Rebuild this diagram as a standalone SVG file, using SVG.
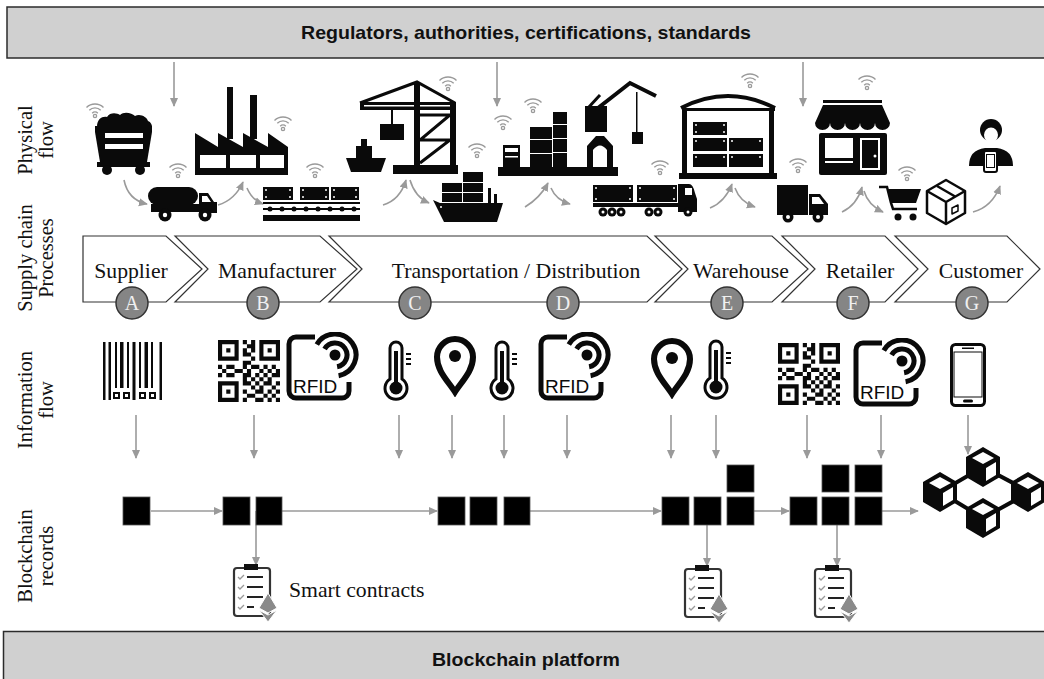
<svg xmlns="http://www.w3.org/2000/svg" xmlns:xlink="http://www.w3.org/1999/xlink" width="1044" height="679" viewBox="0 0 1044 679">
<defs>
<style>
  .band{fill:#d0d0d0;stroke:#2b2b2b;stroke-width:1.5}
  .band-t{font-family:"Liberation Sans",Arial,sans-serif;font-weight:bold;font-size:19px;fill:#111;text-anchor:middle}
  .row-t{font-family:"Liberation Serif","Times New Roman",serif;font-size:20.5px;fill:#111;text-anchor:middle}
  .proc{fill:#fff;stroke:#333;stroke-width:1.2}
  .proc-t{font-family:"Liberation Serif","Times New Roman",serif;font-size:21.7px;fill:#111;text-anchor:middle}
  .step{fill:#858585;stroke:#333;stroke-width:1.5}
  .step-t{font-family:"Liberation Serif","Times New Roman",serif;font-size:20px;fill:#f0f0f0;text-anchor:middle}
  .arw{fill:none;stroke:#9a9a9a;stroke-width:1.6;marker-end:url(#ah)}
  .ink{fill:#0a0a0a}
  .hole{fill:#fff}
  .blk{fill:#000;stroke:#555;stroke-width:0.8}
  .wifi{fill:none;stroke:#9a9a9a;stroke-width:1.4}
  .rfid-t{font-family:"Liberation Sans",Arial,sans-serif;font-size:19px;fill:#0a0a0a}
</style>
<marker id="ah" viewBox="0 0 10 10" refX="9" refY="5" markerWidth="9" markerHeight="9" markerUnits="userSpaceOnUse" orient="auto">
  <path d="M0 0.5L10 5L0 9.5Z" fill="#9a9a9a"/>
</marker>
<g id="wifi" class="wifi">
  <path d="M-2.8 3.2A4 4 0 0 1 2.8 3.2M-5.7 0.3A8 8 0 0 1 5.7 0.3M-8.5 -2.5A12 12 0 0 1 8.5 -2.5"/>
  <circle cx="0" cy="6" r="1.6"/>
</g>
<symbol id="qr" viewBox="0 0 15 15">
  <path fill="#0a0a0a" fill-rule="evenodd" d="M0 0h5v5h-5zM1 1v3h3v-3zM10 0h5v5h-5zM11 1v3h3v-3zM0 10h5v5h-5zM1 11v3h3v-3z"/>
  <path fill="#0a0a0a" d="M2 2h1v1h-1zM12 2h1v1h-1zM2 12h1v1h-1z
  M6 0h1v1h-1zM8 0h1v1h-1zM7 1h1v1h-1zM8 1h1v1h-1zM6 2h1v1h-1zM8 2h1v1h-1zM6 3h1v1h-1zM7 3h1v1h-1zM8 4h1v1h-1zM6 5h1v1h-1zM7 5h1v1h-1z
  M0 6h1v1h-1zM2 6h1v1h-1zM3 6h1v1h-1zM6 6h1v1h-1zM8 6h1v1h-1zM9 6h1v1h-1zM11 6h1v1h-1zM13 6h1v1h-1z
  M1 7h1v1h-1zM4 7h1v1h-1zM5 7h1v1h-1zM7 7h1v1h-1zM10 7h1v1h-1zM12 7h1v1h-1zM14 7h1v1h-1z
  M0 8h1v1h-1zM2 8h1v1h-1zM3 8h1v1h-1zM6 8h1v1h-1zM7 8h1v1h-1zM9 8h1v1h-1zM11 8h1v1h-1zM13 8h1v1h-1zM14 8h1v1h-1z
  M6 9h1v1h-1zM8 9h1v1h-1zM10 9h1v1h-1zM12 9h1v1h-1z
  M6 10h1v1h-1zM7 10h1v1h-1zM9 10h1v1h-1zM11 10h1v1h-1zM12 10h1v1h-1zM14 10h1v1h-1z
  M8 11h1v1h-1zM10 11h1v1h-1zM13 11h1v1h-1z
  M6 12h1v1h-1zM9 12h1v1h-1zM10 12h1v1h-1zM12 12h1v1h-1zM14 12h1v1h-1z
  M7 13h1v1h-1zM8 13h1v1h-1zM11 13h1v1h-1zM13 13h1v1h-1z
  M6 14h1v1h-1zM9 14h1v1h-1zM10 14h1v1h-1zM12 14h1v1h-1zM14 14h1v1h-1z"/>
</symbol>
<symbol id="thermo" viewBox="0 0 32 62">
  <path d="M8 40V9a6 6 0 0 1 12 0V40a11 11 0 1 1 -12 0z" fill="none" stroke="#0a0a0a" stroke-width="3"/>
  <rect x="12" y="12" width="4" height="32" fill="#0a0a0a"/>
  <circle cx="14" cy="49" r="6.5" fill="#0a0a0a"/>
  <path d="M24 15h5M24 20h5M24 25h5" stroke="#0a0a0a" stroke-width="2"/>
</symbol>
<symbol id="pin" viewBox="0 0 44 62">
  <path d="M22 57C15 46 4 36 4 22A18 18 0 0 1 40 22C40 36 29 46 22 57Z" fill="none" stroke="#0a0a0a" stroke-width="6"/>
  <circle cx="22" cy="21" r="6" fill="#0a0a0a"/>
</symbol>
<symbol id="rfid" viewBox="0 0 78 70">
  <path d="M30 5H11a7 7 0 0 0 -7 7V59a7 7 0 0 0 7 7H57a7 7 0 0 0 7 -7V50" fill="none" stroke="#0a0a0a" stroke-width="5"/>
  <circle cx="50" cy="23" r="5.5" fill="#0a0a0a"/>
  <path d="M39.6 17A12 12 0 1 1 52.1 34.8M31.8 12.5A21 21 0 1 1 53.6 43.7" fill="none" stroke="#0a0a0a" stroke-width="5"/>
</symbol>
<symbol id="clip" viewBox="0 0 46 58">
  <rect x="2" y="4" width="36" height="48" rx="3" fill="#fff" stroke="#333" stroke-width="2.2"/>
  <rect x="12" y="0" width="14" height="6" fill="#111"/>
  <path d="M6 13l2 2 4-4M6 23l2 2 4-4M6 33l2 2 4-4M6 43l2 2 4-4" stroke="#999" stroke-width="1.3" fill="none"/>
  <path d="M15 13H31M15 23H31M15 33H31M15 43H22" stroke="#222" stroke-width="2.2"/>
  <path d="M36 29L45 44L36 49L27 44Z" fill="#8a8a8a" stroke="#fff" stroke-width="1"/>
  <path d="M36 51L45 46L36 58L27 46Z" fill="#8a8a8a" stroke="#fff" stroke-width="1"/>
</symbol>
<g id="cube">
  <path d="M0 -20L17 -10V10L0 20L-17 10V-10Z" fill="#0a0a0a"/>
  <path d="M0 -15L11 -9L0 -3L-11 -9Z" fill="#fff"/>
  <path d="M3 1L13 -5V8L3 14Z" fill="#fff"/>
</g>
</defs>

<rect width="1044" height="679" fill="#fff"/>

<!-- top and bottom bands -->
<g id="regulators">
  <rect class="band" x="7" y="7" width="1045" height="51"/>
  <text class="band-t" x="526" y="39" textLength="450" lengthAdjust="spacingAndGlyphs">Regulators, authorities, certifications, standards</text>
</g>
<g id="platform">
  <rect class="band" x="3.5" y="631.5" width="1045" height="55"/>
  <text class="band-t" x="526" y="666" textLength="188" lengthAdjust="spacingAndGlyphs">Blockchain platform</text>
</g>

<!-- row captions -->
<g id="row-labels">
  <text class="row-t" transform="translate(32,140) rotate(-90)"><tspan x="0" y="0">Physical</tspan><tspan x="0" y="21">flow</tspan></text>
  <text class="row-t" transform="translate(32,258) rotate(-90)"><tspan x="0" y="0">Supply chain</tspan><tspan x="0" y="21">Processes</tspan></text>
  <text class="row-t" transform="translate(32,400) rotate(-90)"><tspan x="0" y="0">Information</tspan><tspan x="0" y="21">flow</tspan></text>
  <text class="row-t" transform="translate(32,556) rotate(-90)"><tspan x="0" y="0">Blockchain</tspan><tspan x="0" y="21">records</tspan></text>
</g>

<!-- connectors -->
<g id="connectors">
  <path class="arw" d="M174 62V106"/>
  <path class="arw" d="M497 62V106"/>
  <path class="arw" d="M803 62V106"/>
  <path class="arw" d="M124 180Q128 200 147 204"/>
  <path class="arw" d="M218 205Q235 200 243 182"/>
  <path class="arw" d="M247 188Q252 200 263 204"/>
  <path class="arw" d="M383 205Q400 200 406 180"/>
  <path class="arw" d="M410 180Q415 197 429 203"/>
  <path class="arw" d="M525 207Q540 198 548 183"/>
  <path class="arw" d="M551 188Q556 200 570 204"/>
  <path class="arw" d="M710 208Q725 202 732 184"/>
  <path class="arw" d="M735 188Q740 202 755 207"/>
  <path class="arw" d="M842 212Q857 205 862 187"/>
  <path class="arw" d="M864 191Q868 205 883 212"/>
  <path class="arw" d="M973 212Q992 207 1000 186"/>
  <path class="arw" d="M136 415V458"/>
  <path class="arw" d="M254 415V458"/>
  <path class="arw" d="M399 415V458"/>
  <path class="arw" d="M452 415V458"/>
  <path class="arw" d="M504 415V458"/>
  <path class="arw" d="M567 415V458"/>
  <path class="arw" d="M671 415V458"/>
  <path class="arw" d="M716 415V458"/>
  <path class="arw" d="M807 415V458"/>
  <path class="arw" d="M881 415V458"/>
  <path class="arw" d="M968 415V454"/>
  <path class="arw" d="M151 511H222"/>
  <path class="arw" d="M282 511H437"/>
  <path class="arw" d="M530 511H661"/>
  <path class="arw" d="M754 511H789"/>
  <path class="arw" d="M882 511H918"/>
  <path class="arw" d="M256 511V565"/>
  <path class="arw" d="M707 525V566"/>
  <path class="arw" d="M837 525V566"/>
</g>

<!-- process chevrons -->
<g id="proc-supplier">
  <polygon class="proc" points="83,236 166,236 202,269 166,302 83,302"/>
  <text class="proc-t" x="131" y="278">Supplier</text>
  <circle class="step" cx="132" cy="303" r="16"/><text class="step-t" x="132" y="310">A</text>
</g>
<g id="proc-manufacturer">
  <polygon class="proc" points="175,236 320,236 357,269 320,302 175,302 208,269"/>
  <text class="proc-t" x="277" y="278">Manufacturer</text>
  <circle class="step" cx="263" cy="303" r="16"/><text class="step-t" x="263" y="310">B</text>
</g>
<g id="proc-transport">
  <polygon class="proc" points="329,236 647,236 682,269 647,302 329,302 362,269"/>
  <text class="proc-t" x="516" y="278">Transportation / Distribution</text>
  <circle class="step" cx="415" cy="303" r="16"/><text class="step-t" x="415" y="310">C</text>
  <circle class="step" cx="563" cy="303" r="16"/><text class="step-t" x="563" y="310">D</text>
</g>
<g id="proc-warehouse">
  <polygon class="proc" points="655,236 772,236 808,269 772,302 655,302 688,269"/>
  <text class="proc-t" x="741" y="278">Warehouse</text>
  <circle class="step" cx="727" cy="303" r="16"/><text class="step-t" x="727" y="310">E</text>
</g>
<g id="proc-retailer">
  <polygon class="proc" points="782,236 885,236 918,269 885,302 782,302 815,269"/>
  <text class="proc-t" x="860" y="278">Retailer</text>
  <circle class="step" cx="853" cy="303" r="16"/><text class="step-t" x="853" y="310">F</text>
</g>
<g id="proc-customer">
  <polygon class="proc" points="895,236 1007,236 1040,269 1007,302 895,302 928,269"/>
  <text class="proc-t" x="981" y="278">Customer</text>
  <circle class="step" cx="972" cy="303" r="16"/><text class="step-t" x="972" y="310">G</text>
</g>

<!-- physical flow -->
<g id="phys-wifi">
  <use href="#wifi" x="95" y="110"/><use href="#wifi" x="178" y="170"/><use href="#wifi" x="283" y="123"/>
  <use href="#wifi" x="315" y="170"/><use href="#wifi" x="448" y="83"/><use href="#wifi" x="477" y="150"/>
  <use href="#wifi" x="503" y="122"/><use href="#wifi" x="533" y="105"/><use href="#wifi" x="660" y="167"/>
  <use href="#wifi" x="750" y="80"/><use href="#wifi" x="798" y="165"/><use href="#wifi" x="867" y="82"/>
  <use href="#wifi" x="907" y="173"/>
</g>
<g id="phys-mine-cart" class="ink">
  <path d="M97 127C97 118 103 116 107 117C110 112 117 113 120 115C124 111 132 113 135 116C140 113 147 117 148 121C151 122 152 125 152 127Z"/>
  <path d="M95 126H152V132L147 162H100L95 132Z"/>
  <rect class="hole" x="105" y="133" width="38" height="5"/>
  <rect class="hole" x="105" y="144" width="38" height="5"/>
  <rect x="97" y="162" width="53" height="5"/>
  <circle cx="107" cy="170" r="5"/><circle cx="140" cy="170" r="5"/>
</g>
<g id="phys-tanker" class="ink">
  <rect x="148" y="187" width="50" height="18" rx="9"/>
  <path d="M199 193H208L214 202H217V213H199Z"/>
  <path class="hole" d="M202 196H207L211 202H202Z"/>
  <rect x="151" y="204" width="66" height="8"/>
  <circle cx="165" cy="215" r="6.5"/><circle class="hole" cx="165" cy="215" r="2.2"/>
  <circle cx="205" cy="215" r="6.5"/><circle class="hole" cx="205" cy="215" r="2.2"/>
</g>
<g id="phys-factory" class="ink">
  <rect x="227" y="87" width="6" height="52"/>
  <rect x="250" y="95" width="7" height="44"/>
  <polygon points="195,133 218,147 218,133 243,147 243,133 268,147 268,133 288,147 288,175 195,175"/>
  <rect class="hole" x="200" y="155" width="26" height="13"/>
  <rect class="hole" x="230" y="155" width="26" height="13"/>
  <rect class="hole" x="260" y="155" width="24" height="13"/>
</g>
<g id="phys-conveyor" class="ink">
  <rect x="263" y="187" width="30" height="13"/>
  <rect x="300" y="187" width="29" height="13"/>
  <rect x="331" y="187" width="28" height="13"/>
  <g class="hole">
    <circle cx="266" cy="190" r="1"/><circle cx="290" cy="190" r="1"/><circle cx="266" cy="197" r="1"/><circle cx="290" cy="197" r="1"/>
    <circle cx="303" cy="190" r="1"/><circle cx="326" cy="190" r="1"/><circle cx="303" cy="197" r="1"/><circle cx="326" cy="197" r="1"/>
    <circle cx="334" cy="190" r="1"/><circle cx="356" cy="190" r="1"/><circle cx="334" cy="197" r="1"/><circle cx="356" cy="197" r="1"/>
  </g>
  <rect x="263" y="202" width="97" height="2"/>
  <rect x="263" y="208" width="97" height="2"/>
  <circle cx="270" cy="209" r="2.5"/><circle cx="282" cy="209" r="2.5"/><circle cx="294" cy="209" r="2.5"/><circle cx="306" cy="209" r="2.5"/>
  <circle cx="318" cy="209" r="2.5"/><circle cx="330" cy="209" r="2.5"/><circle cx="342" cy="209" r="2.5"/><circle cx="354" cy="209" r="2.5"/>
  <rect x="263" y="215" width="97" height="6"/>
</g>
<g id="phys-gantry" class="ink">
  <path d="M360 103L417 82L455 103" fill="none" stroke="#0a0a0a" stroke-width="3"/>
  <rect x="360" y="102" width="96" height="8"/>
  <rect class="hole" x="364" y="105" width="88" height="1.5"/>
  <rect x="414" y="82" width="6" height="85"/>
  <rect x="450" y="102" width="6" height="65"/>
  <path d="M420 115H450L420 140H450L420 163" fill="none" stroke="#0a0a0a" stroke-width="3"/>
  <rect x="391" y="110" width="2" height="14"/>
  <rect x="380" y="124" width="24" height="16"/>
  <rect x="393" y="165" width="65" height="9"/>
  <rect x="361" y="139" width="6" height="8"/>
  <rect x="356" y="146" width="16" height="12"/>
  <path d="M346 158H386L381 172H351Z"/>
</g>
<g id="phys-ship" class="ink">
  <rect x="463" y="172" width="20" height="10"/>
  <rect x="442" y="183" width="20" height="9"/><rect x="463" y="183" width="20" height="9"/>
  <rect x="442" y="193" width="20" height="9"/><rect x="463" y="193" width="20" height="9"/>
  <rect x="488" y="188" width="3" height="15"/><rect x="494" y="194" width="3" height="9"/>
  <path d="M433 200L440 203H503L497 222H444Z"/>
  <circle class="hole" cx="441" cy="207" r="1"/>
</g>
<g id="phys-port" class="ink">
  <rect x="498" y="167" width="120" height="9"/>
  <rect x="503" y="145" width="17" height="22"/>
  <rect class="hole" x="505" y="148" width="13" height="4"/>
  <rect class="hole" x="505" y="156" width="13" height="1.5"/>
  <rect x="530" y="127" width="22" height="12"/><rect x="530" y="140" width="22" height="13"/><rect x="530" y="154" width="22" height="13"/>
  <rect x="553" y="112" width="14" height="12"/><rect x="553" y="125" width="14" height="13"/><rect x="553" y="139" width="14" height="13"/><rect x="553" y="153" width="14" height="14"/>
  <path d="M587 167V146L596 136H604L613 146V167H607V150Q600 141 593 150V167Z"/>
  <rect x="585" y="106" width="22" height="26"/>
  <path d="M598 108L630 83L656 96" fill="none" stroke="#0a0a0a" stroke-width="4"/>
  <path d="M588 108L600 95" fill="none" stroke="#0a0a0a" stroke-width="3"/>
  <rect x="636" y="92" width="1.5" height="40"/>
  <rect x="632" y="132" width="11" height="12"/>
</g>
<g id="phys-semi" class="ink">
  <rect x="593" y="185" width="40" height="17"/>
  <rect x="637" y="185" width="40" height="17"/>
  <g class="hole">
    <circle cx="596" cy="188" r="1"/><circle cx="630" cy="188" r="1"/><circle cx="596" cy="199" r="1"/><circle cx="630" cy="199" r="1"/>
    <circle cx="640" cy="188" r="1"/><circle cx="674" cy="188" r="1"/><circle cx="640" cy="199" r="1"/><circle cx="674" cy="199" r="1"/>
  </g>
  <rect x="593" y="203" width="95" height="4"/>
  <path d="M678 184H689Q693 184 695 193L697 199V212H678Z"/>
  <rect class="hole" x="685" y="188" width="7" height="7"/>
  <circle cx="603" cy="212" r="4.5"/><circle cx="612" cy="212" r="4.5"/><circle cx="621" cy="212" r="4.5"/>
  <circle cx="649" cy="212" r="4.5"/><circle cx="658" cy="212" r="4.5"/><circle cx="688" cy="212" r="4.5"/>
  <g class="hole">
    <circle cx="603" cy="212" r="1.5"/><circle cx="612" cy="212" r="1.5"/><circle cx="621" cy="212" r="1.5"/>
    <circle cx="649" cy="212" r="1.5"/><circle cx="658" cy="212" r="1.5"/><circle cx="688" cy="212" r="1.5"/>
  </g>
</g>
<g id="phys-warehouse" class="ink">
  <path d="M681 108Q728 84 775 108" fill="none" stroke="#0a0a0a" stroke-width="4"/>
  <rect x="682" y="108" width="93" height="3"/>
  <rect x="682" y="108" width="5" height="66"/>
  <rect x="769" y="108" width="5" height="66"/>
  <rect x="679" y="173" width="98" height="6"/>
  <rect x="693" y="122" width="34" height="13"/>
  <rect x="693" y="138" width="34" height="13"/><rect x="729" y="138" width="34" height="13"/>
  <rect x="693" y="154" width="34" height="13"/><rect x="729" y="154" width="34" height="13"/>
  <g class="hole">
    <circle cx="696" cy="125" r="1"/><circle cx="724" cy="125" r="1"/><circle cx="696" cy="132" r="1"/><circle cx="724" cy="132" r="1"/>
    <circle cx="696" cy="141" r="1"/><circle cx="724" cy="141" r="1"/><circle cx="732" cy="141" r="1"/><circle cx="760" cy="141" r="1"/>
    <circle cx="696" cy="157" r="1"/><circle cx="724" cy="157" r="1"/><circle cx="732" cy="157" r="1"/><circle cx="760" cy="157" r="1"/>
  </g>
</g>
<g id="phys-van" class="ink">
  <rect x="777" y="185" width="31" height="30"/>
  <path d="M809 194H820L828 204V215H809Z"/>
  <path class="hole" d="M812 197H819L824 204H812Z"/>
  <circle cx="788" cy="217" r="5.5"/><circle class="hole" cx="788" cy="217" r="2"/>
  <circle cx="818" cy="217" r="5.5"/><circle class="hole" cx="818" cy="217" r="2"/>
</g>
<g id="phys-store" class="ink">
  <rect x="823" y="100" width="59" height="3"/>
  <path d="M823 105H882L890 123A7.5 7 0 0 1 875 123A7.5 7 0 0 1 860 123A7.5 7 0 0 1 845 123A7.5 7 0 0 1 830 123A7.5 7 0 0 1 815 123Z"/>
  <rect x="819" y="133" width="68" height="42" rx="2"/>
  <rect class="hole" x="825" y="138" width="28" height="20"/>
  <rect class="hole" x="825" y="161" width="28" height="2"/>
  <rect x="861" y="139" width="18" height="30" fill="none" stroke="#fff" stroke-width="2"/>
  <circle class="hole" cx="875" cy="156" r="1.5"/>
</g>
<g id="phys-cart" class="ink">
  <path d="M879 187H887L891 203L893 209H917" fill="none" stroke="#0a0a0a" stroke-width="2.5"/>
  <polygon points="887,189 921,189 916,203 891,203"/>
  <circle cx="898" cy="217" r="3.5"/><circle cx="913" cy="217" r="3.5"/>
</g>
<g id="phys-parcel" fill="none" stroke="#0a0a0a" stroke-width="2.5" stroke-linejoin="round">
  <path d="M946 180L965 191V213L946 224L927 213V191Z"/>
  <path d="M927 191L946 202L965 191M946 202V224M937 186L956 197"/>
  <path d="M952 208L958 205V211L952 214Z" stroke-width="1.5"/>
</g>
<g id="phys-customer" class="ink">
  <circle cx="991" cy="130" r="11"/>
  <ellipse class="hole" cx="991" cy="135" rx="7" ry="7.5"/>
  <path d="M969 166Q969 150 985 148H997Q1013 150 1013 166Z"/>
  <rect x="984" y="151" width="13" height="21" rx="2" fill="#fff" stroke="#0a0a0a" stroke-width="2"/>
  <rect x="986.5" y="154.5" width="8" height="13" fill="none" stroke="#0a0a0a" stroke-width="1"/>
</g>

<!-- information flow -->
<g id="info-barcode" class="ink">
  <rect x="103" y="342" width="2.5" height="58"/>
  <rect x="108.5" y="342" width="2.5" height="58"/>
  <rect x="115" y="342" width="2" height="46"/>
  <rect x="120" y="342" width="3.5" height="46"/>
  <rect x="127" y="342" width="2" height="46"/>
  <rect x="132.5" y="342" width="3" height="58"/>
  <rect x="139" y="342" width="2" height="46"/>
  <rect x="144.5" y="342" width="3.5" height="46"/>
  <rect x="151" y="342" width="2" height="46"/>
  <rect x="159.5" y="342" width="2.5" height="58"/>
  <rect x="113" y="392" width="7" height="7"/><rect class="hole" x="115" y="394" width="3" height="3"/>
  <rect x="123" y="392" width="7" height="7"/><rect class="hole" x="125" y="394" width="3" height="3"/>
  <rect x="139" y="392" width="7" height="7"/><rect class="hole" x="141" y="394" width="3" height="3"/>
  <rect x="149" y="392" width="7" height="7"/><rect class="hole" x="151" y="394" width="3" height="3"/>
</g>
<g id="info-qr-1"><use href="#qr" x="218" y="340" width="62" height="62"/></g>
<g id="info-rfid-1"><use href="#rfid" x="285" y="332" width="78" height="70"/><text class="rfid-t" x="293" y="393">RFID</text></g>
<g id="info-thermo-1"><use href="#thermo" x="382" y="339" width="32" height="62"/></g>
<g id="info-pin-1"><use href="#pin" x="433" y="335" width="44" height="62"/></g>
<g id="info-thermo-2"><use href="#thermo" x="488" y="339" width="32" height="62"/></g>
<g id="info-rfid-2"><use href="#rfid" x="537" y="332" width="78" height="70"/><text class="rfid-t" x="545" y="393">RFID</text></g>
<g id="info-pin-2"><use href="#pin" x="650" y="337" width="44" height="62"/></g>
<g id="info-thermo-3"><use href="#thermo" x="702" y="338" width="32" height="62"/></g>
<g id="info-qr-2"><use href="#qr" x="778" y="343" width="62" height="62"/></g>
<g id="info-rfid-3"><use href="#rfid" x="852" y="338" width="78" height="70"/><text class="rfid-t" x="860" y="399">RFID</text></g>
<g id="info-phone">
  <rect x="951.5" y="344.5" width="33" height="61" rx="4" fill="#fff" stroke="#0a0a0a" stroke-width="3"/>
  <rect x="954" y="352" width="28" height="45" fill="none" stroke="#0a0a0a" stroke-width="1"/>
  <rect x="962" y="347.5" width="12" height="1.5" fill="#0a0a0a"/>
  <rect x="963" y="399.5" width="10" height="3" rx="1.5" fill="#0a0a0a"/>
</g>

<!-- blockchain records -->
<g id="rec-a"><rect class="blk" x="123" y="497" width="27" height="28"/></g>
<g id="rec-b"><rect class="blk" x="223" y="497" width="27" height="28"/><rect class="blk" x="256" y="497" width="26" height="28"/></g>
<g id="rec-cd"><rect class="blk" x="438" y="497" width="27" height="28"/><rect class="blk" x="470" y="497" width="27" height="28"/><rect class="blk" x="504" y="497" width="26" height="28"/></g>
<g id="rec-e">
  <rect class="blk" x="662" y="497" width="27" height="28"/><rect class="blk" x="694" y="497" width="27" height="28"/>
  <rect class="blk" x="727" y="497" width="27" height="28"/><rect class="blk" x="727" y="465" width="27" height="27"/>
</g>
<g id="rec-f">
  <rect class="blk" x="790" y="497" width="27" height="28"/><rect class="blk" x="822" y="497" width="27" height="28"/>
  <rect class="blk" x="855" y="497" width="27" height="28"/><rect class="blk" x="822" y="465" width="27" height="27"/>
  <rect class="blk" x="855" y="465" width="27" height="27"/>
</g>
<g id="ledger-network">
  <path d="M983 467L1030 492L983 518L940 492Z" fill="none" stroke="#0a0a0a" stroke-width="4"/>
  <use href="#cube" x="983" y="467"/>
  <use href="#cube" x="940" y="492"/>
  <use href="#cube" x="1028" y="492"/>
  <use href="#cube" x="983" y="518"/>
</g>

<!-- smart contracts -->
<g id="contract-b"><use href="#clip" x="232" y="564" width="46" height="58"/>
  <text x="289" y="597" font-family="Liberation Serif, Times New Roman, serif" font-size="21.7" fill="#111">Smart contracts</text></g>
<g id="contract-e"><use href="#clip" x="683" y="565" width="46" height="58"/></g>
<g id="contract-f"><use href="#clip" x="813" y="565" width="46" height="58"/></g>
</svg>
